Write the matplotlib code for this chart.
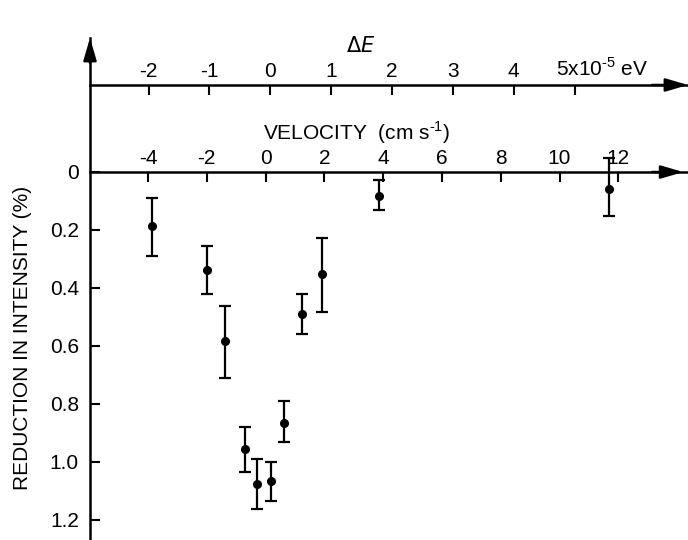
import matplotlib
matplotlib.use("Agg")
import matplotlib.pyplot as plt

plt.rcParams['font.family'] = ['Liberation Sans', 'DejaVu Sans']

# data
velocity = [-3.85, -1.98, -1.38, -0.70, -0.30, 0.17, 0.64, 1.25, 1.93, 3.86, 11.69]
reduction = [0.185, 0.338, 0.584, 0.955, 1.077, 1.064, 0.864, 0.490, 0.353, 0.082, 0.058]
err_minus = [0.096, 0.083, 0.123, 0.076, 0.086, 0.064, 0.074, 0.070, 0.126, 0.054, 0.106]
err_plus = [0.106, 0.084, 0.126, 0.080, 0.086, 0.069, 0.067, 0.070, 0.129, 0.049, 0.094]

vel_ticks = [-4, -2, 0, 2, 4, 6, 8, 10, 12]
red_ticks = [0, 0.2, 0.4, 0.6, 0.8, 1.0, 1.2]
red_labels = ['0', '0.2', '0.4', '0.6', '0.8', '1.0', '1.2']
de_ticks = [-2, -1, 0, 1, 2, 3, 4, 5]
de_labels = ['-2', '-1', '0', '1', '2', '3', '4', '']

# velocity (cm/s) per 1e-5 eV, plus small zero offset seen on the drawing
V_PER_DE = 2.07
V_OFFSET = 0.16

FS = 15

fig = plt.figure(figsize=(6.88, 5.4), dpi=100)
ax = fig.add_axes([90 / 688, 0, 598 / 688, 502 / 540])

ax.errorbar(velocity, reduction, yerr=[err_minus, err_plus], fmt='o', color='k',
            ms=5.5, elinewidth=1.6, capsize=4.5, capthick=1.6, clip_on=False)

ax.set_xlim(-5.97, 14.37)
ax.set_ylim(1.269, -0.462)

lw = 1.8
for s in ['right', 'bottom']:
    ax.spines[s].set_visible(False)
ax.spines['top'].set_position(('data', 0))
ax.spines['top'].set_linewidth(lw)
ax.spines['left'].set_linewidth(lw)

ax.xaxis.set_ticks_position('top')
ax.set_xticks(vel_ticks)
ax.set_xticklabels([str(t) for t in vel_ticks])
ax.tick_params(axis='x', direction='in', length=7, width=1.5, pad=3, labelsize=FS)

ax.set_yticks(red_ticks)
ax.set_yticklabels(red_labels)
ax.tick_params(axis='y', direction='in', length=7, width=1.5, pad=8, labelsize=FS)

ax.set_ylabel('REDUCTION IN INTENSITY (%)', fontsize=FS)
ax.yaxis.set_label_coords(-0.097, 0.402)

ax.text(0.446, 0.812, 'VELOCITY  (cm s$^{\\mathregular{\u20101}}$)', transform=ax.transAxes,
        ha='center', va='center', fontsize=FS)

# energy axis
sec = ax.secondary_xaxis(0.9064, functions=(lambda v: (v - V_OFFSET) / V_PER_DE,
                                            lambda e: e * V_PER_DE + V_OFFSET))
sec.set_xticks(de_ticks)
sec.set_xticklabels(de_labels)
sec.tick_params(axis='x', direction='in', length=7, width=1.5, pad=3, labelsize=FS)
for s in sec.spines.values():
    s.set_linewidth(lw)

ax.text(0.452, 0.985, '$\\mathit{\\Delta E}$', transform=ax.transAxes, ha='center',
        va='center', fontsize=FS)
ax.text(0.78, 0.917, '5x10$^{\\mathregular{\u20105}}$ eV', transform=ax.transAxes,
        ha='left', va='bottom', fontsize=FS)

# arrow heads
arrow = dict(arrowstyle='-|>,head_length=0.75,head_width=0.22', color='k', lw=lw,
             mutation_scale=18, shrinkA=0, shrinkB=0)
ax.annotate('', xy=(0, 1.0), xytext=(0, 0.95), xycoords='axes fraction', arrowprops=arrow)
ax.annotate('', xy=(0.992, 0.733), xytext=(0.94, 0.733), xycoords='axes fraction', arrowprops=arrow)
ax.annotate('', xy=(1.0, 0.9064), xytext=(0.94, 0.9064), xycoords='axes fraction', arrowprops=arrow)

plt.savefig('out.png', dpi=100)
